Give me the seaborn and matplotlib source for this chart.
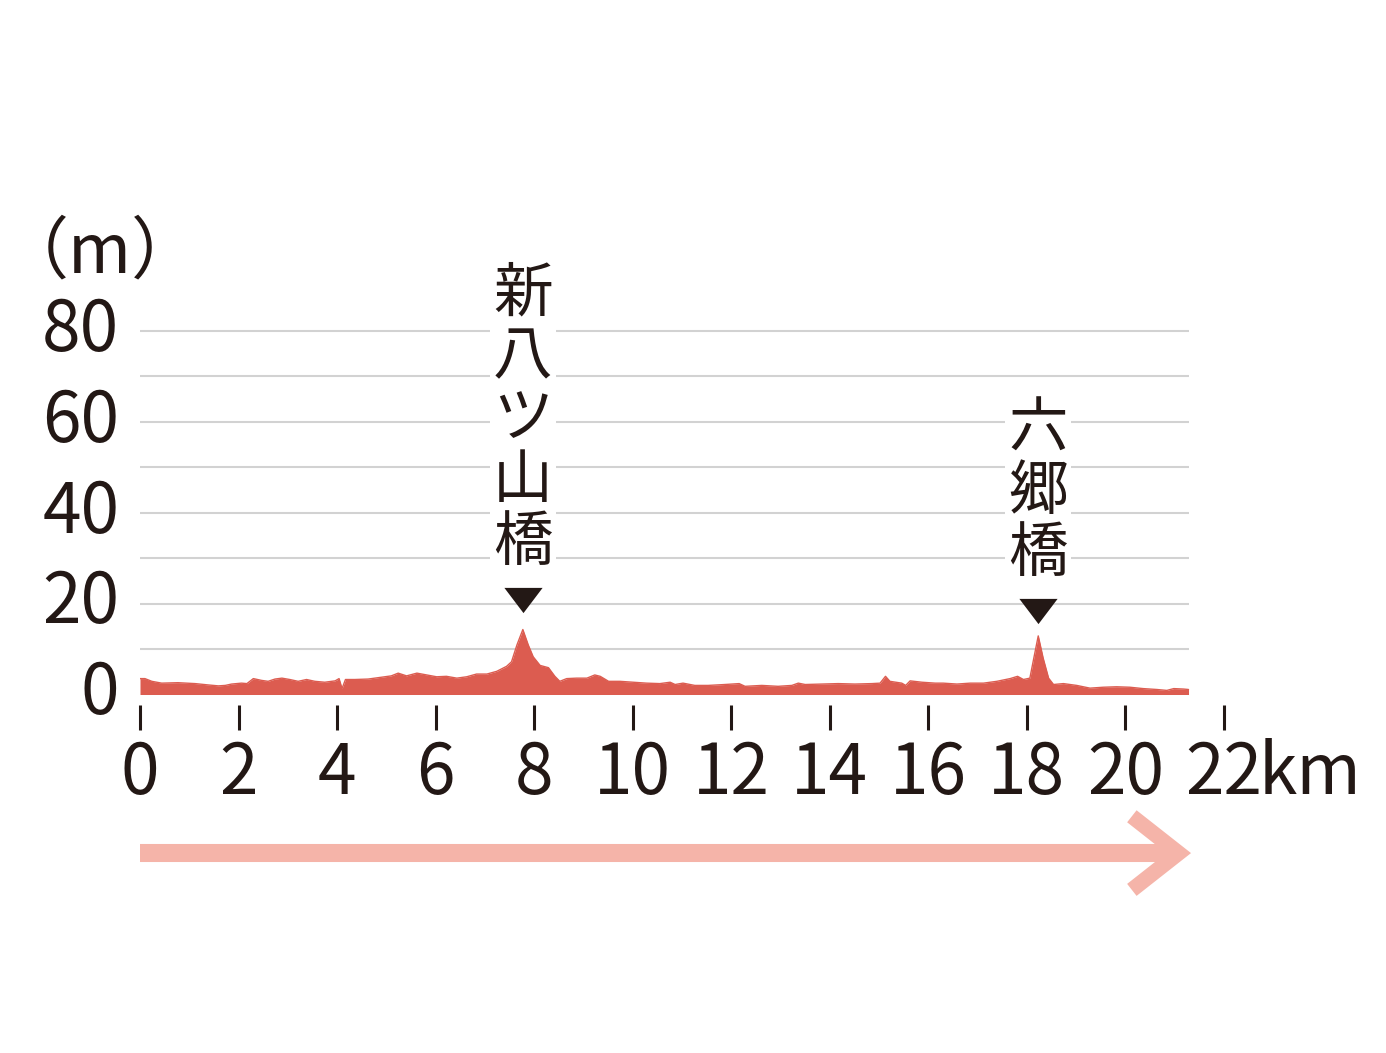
import numpy as np
import pandas as pd
import matplotlib
matplotlib.use("Agg")
import matplotlib.pyplot as plt
import matplotlib.transforms as mtransforms
import seaborn as sns

# ---- data -------------------------------------------------------------
dist_km = [0.0, 0.1, 0.24, 0.44, 0.77, 1.12, 1.39, 1.59, 1.73, 1.86, 2.06, 2.17,
           2.3, 2.47, 2.6, 2.74, 2.88, 3.04, 3.21, 3.38, 3.55, 3.75, 3.96, 4.04,
           4.1, 4.17, 4.36, 4.63, 4.9, 5.1, 5.24, 5.41, 5.62, 5.82, 6.02, 6.22,
           6.43, 6.63, 6.83, 7.04, 7.24, 7.44, 7.54, 7.65, 7.77, 7.88, 7.98, 8.12,
           8.29, 8.42, 8.52, 8.66, 8.86, 9.07, 9.23, 9.34, 9.51, 9.74, 10.01,
           10.28, 10.55, 10.76, 10.86, 11.02, 11.26, 11.53, 11.87, 12.16, 12.28,
           12.62, 12.95, 13.23, 13.36, 13.5, 13.84, 14.17, 14.51, 14.85, 15.02,
           15.13, 15.22, 15.46, 15.54, 15.63, 15.87, 16.14, 16.3, 16.58, 16.85,
           17.12, 17.39, 17.66, 17.81, 17.93, 18.06, 18.14, 18.23, 18.33, 18.44,
           18.54, 18.74, 19.01, 19.28, 19.55, 19.82, 20.09, 20.36, 20.64, 20.84,
           20.98, 21.18, 21.28]
elev_m = [3.5, 3.5, 2.9, 2.5, 2.6, 2.4, 2.1, 1.9, 2.0, 2.3, 2.5, 2.4,
          3.5, 3.1, 2.9, 3.4, 3.6, 3.3, 2.9, 3.3, 2.9, 2.7, 3.0, 3.5,
          1.3, 3.3, 3.3, 3.4, 3.8, 4.1, 4.7, 4.1, 4.7, 4.3, 3.9, 4.0,
          3.6, 3.9, 4.5, 4.5, 5.1, 6.2, 7.2, 10.9, 14.3, 10.9, 8.3, 6.4,
          5.9, 4.0, 2.9, 3.5, 3.6, 3.6, 4.3, 4.0, 2.9, 2.9, 2.7,
          2.5, 2.4, 2.7, 2.2, 2.5, 2.0, 2.0, 2.2, 2.4, 1.8,
          2.0, 1.8, 2.0, 2.5, 2.2, 2.3, 2.4, 2.3, 2.4, 2.5,
          4.0, 2.9, 2.5, 2.0, 3.0, 2.7, 2.5, 2.5, 2.3, 2.5,
          2.5, 2.9, 3.5, 4.0, 3.3, 3.6, 8.0, 12.9, 8.0, 3.6,
          2.2, 2.4, 2.0, 1.4, 1.6, 1.7, 1.6, 1.3, 1.1, 0.9,
          1.3, 1.2, 1.1]

x_ticks = [0, 2, 4, 6, 8, 10, 12, 14, 16, 18, 20, 22]
y_ticks = [0, 20, 40, 60, 80]
grid_levels = [10, 20, 30, 40, 50, 60, 70, 80]
x_unit = "km"
y_unit = "（m）"

landmark_names = ["新八ツ山橋", "六郷橋"]
landmark_km = [7.77, 18.23]
landmark_marker_m = [20.8, 18.4]
landmark_text_m = [26.6, 24.2]

# ---- style ------------------------------------------------------------
FILL = "#dc5c50"
ARROW = "#f5b4a9"
INK = "#231815"
GRID = "#d2d2d2"

sns.set_theme(style="white")
plt.rcParams["font.family"] = ["Noto Sans CJK JP", "DejaVu Sans"]

W, H, DPI = 1386, 1053, 100
fig = plt.figure(figsize=(W / DPI, H / DPI), dpi=DPI)
fig.patch.set_facecolor("white")

ax_l, ax_r, ax_top, ax_bot = 140, 1224, 331, 705
ax = fig.add_axes([ax_l / W, (H - ax_bot) / H, (ax_r - ax_l) / W, (ax_bot - ax_top) / H])
ax.set_facecolor("none")

df = pd.DataFrame({"km": dist_km, "m": elev_m})

# grid lines across the profile length
ax.hlines(grid_levels, 0, dist_km[-1], colors=GRID, linewidth=1.5, zorder=1, clip_on=False)

# profile
ax.fill_between(df["km"], 0, df["m"], color=FILL, linewidth=0, zorder=3)
sns.lineplot(data=df, x="km", y="m", ax=ax, color=FILL, linewidth=1.0, zorder=4,
             estimator=None, sort=False)

ax.set_xlim(0, 22)
ax.set_ylim(-2.31, 80)
for s in ax.spines.values():
    s.set_visible(False)
ax.set_xlabel("")
ax.set_ylabel("")

ax.set_xticks(x_ticks)
ax.set_xticklabels([str(v) for v in x_ticks])
ax.set_yticks(y_ticks)
ax.set_yticklabels([str(v) for v in y_ticks])
ax.tick_params(axis="x", direction="out", length=18, width=2.2, color=INK,
               pad=6, labelsize=50, labelcolor=INK, bottom=True)
ax.tick_params(axis="y", length=0, pad=15, labelsize=50, labelcolor=INK, left=True)
ax.grid(False)

# nudge y tick labels up slightly
up = mtransforms.ScaledTranslation(0, 8 / DPI, fig.dpi_scale_trans)
for lab in ax.get_yticklabels():
    lab.set_transform(lab.get_transform() + up)

# unit labels
ax.annotate(x_unit, xy=(22, 0), xycoords=("data", "axes fraction"),
            xytext=(25, -24), textcoords="offset points", ha="left", va="top",
            fontsize=50, color=INK, annotation_clip=False)
fig.text(1 / W, (H - 253) / H, y_unit, ha="left", va="center", fontsize=49, color=INK)

# landmarks (flattened downward triangle)
tri = [(-1.0, 0.66), (1.0, 0.66), (0.0, -0.66), (-1.0, 0.66)]
for name, kx, mk, mt in zip(landmark_names, landmark_km, landmark_marker_m, landmark_text_m):
    ax.plot([kx], [mk], marker=tri, markersize=27.5, color=INK, markeredgewidth=0,
            clip_on=False, zorder=6)
    ax.text(kx, mt, "\n".join(name), ha="center", va="bottom", fontsize=43,
            color=INK, linespacing=1.02, zorder=5, clip_on=False,
            bbox=dict(facecolor="white", edgecolor="none", pad=2))

# direction arrow below the axis
arrow_y = -34.9
tip = dist_km[-1] - 0.2
ax.plot([0, tip - 0.1], [arrow_y, arrow_y], color=ARROW, linewidth=13,
        solid_capstyle="butt", clip_on=False, zorder=2)
ax.plot([tip - 0.95, tip, tip - 0.95], [-26.8, arrow_y, -43.0], color=ARROW, linewidth=11,
        solid_capstyle="butt", solid_joinstyle="miter", clip_on=False, zorder=2)

fig.savefig("out.png", dpi=DPI, facecolor="white")
